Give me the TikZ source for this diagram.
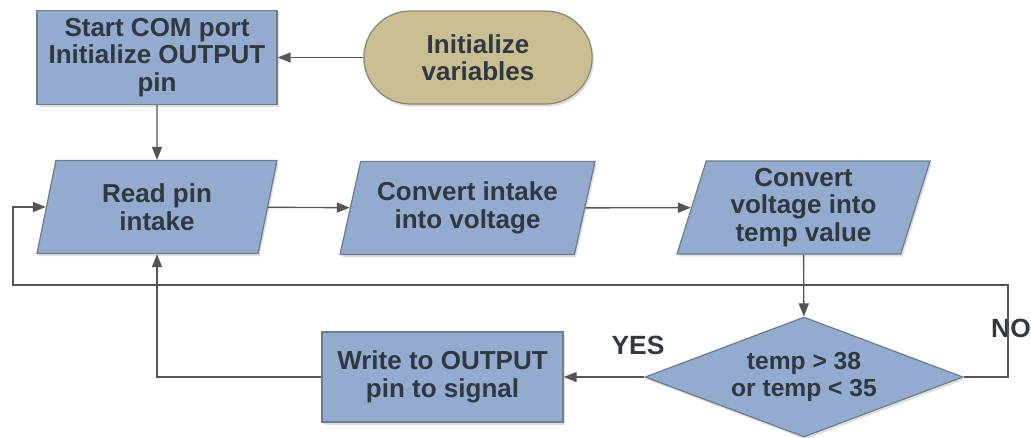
\documentclass[tikz,border=0pt]{standalone}
\usepackage{fontspec}
\setmainfont{Liberation Sans}
\usepackage{tikz}
\usetikzlibrary{arrows.meta,shapes.geometric,shapes.misc,shadows}

\definecolor{boxblue}{RGB}{146,171,206}
\definecolor{boxedge}{RGB}{110,124,140}
\definecolor{ovaltan}{RGB}{201,189,146}
\definecolor{ovaledge}{RGB}{140,134,112}
\definecolor{inktext}{RGB}{48,56,66}
\definecolor{wire}{RGB}{85,85,85}

\tikzset{
	>={Triangle[length=0.26cm,width=0.2cm]},
	base/.style={draw=boxedge, line width=0.7pt, fill=boxblue, text=inktext,
		font=\bfseries\fontsize{14.8}{15.6}\selectfont, align=center,
		drop shadow={opacity=0.25, shadow xshift=1pt, shadow yshift=-1.5pt}},
	procbox/.style={base, rectangle, minimum width=4.8cm, minimum height=1.88cm, inner sep=1pt},
	iobox/.style={base, trapezium, trapezium left angle=72, trapezium right angle=108,
		trapezium stretches body, minimum height=1.86cm, inner xsep=1pt},
	startbox/.style={base, rounded rectangle, fill=ovaltan, draw=ovaledge,
		minimum width=4.8cm, minimum height=1.86cm},
	decision/.style={base, diamond, aspect=2.65, minimum width=6.36cm, minimum height=2.4cm, inner sep=0pt,
		font=\bfseries\fontsize{14}{15}\selectfont},
	line/.style={draw=wire, line width=0.8pt},
	tag/.style={text=inktext, font=\bfseries\fontsize{15}{16}\selectfont}
}

\begin{document}
\begin{tikzpicture}
		\useasboundingbox (0, 0) rectangle (20.62, -8.74);
		
		\node[procbox] (start) at (3.14, -1.15) {Start COM port\\Initialize OUTPUT\\pin};
		\node[startbox] (init) at (9.56, -1.15) {Initialize\\variables};
		
		\node[iobox, minimum width=4.8cm] (read) at (3.14, -4.14) {Read pin\\intake};
		\node[iobox, minimum width=5.1cm] (intake) at (9.35, -4.16) {Convert intake\\into voltage};
		\node[iobox, minimum width=5.06cm] (temp) at (16.07, -4.15) {Convert\\voltage into\\temp value};
		
		\node[decision] (check) at (16.08, -7.54) {temp > 38\\or temp < 35};
		\node[procbox, minimum width=4.82cm, minimum height=1.8cm] (write) at (8.85, -7.54) {Write to OUTPUT\\pin to signal};
		
		\node[tag] (yes) at (12.76, -6.9) {YES};
		\node[tag] (no) at (20.22, -6.56) {NO};
		
		\coordinate (loopR) at (20.16, -5.70);
		\coordinate (loopL) at (0.26, -5.70);
		
		\draw[line, ->] (init) -- (start);
		\draw[line, ->] (start) -- (read);
		\draw[line, ->] (read) -- (intake);
		\draw[line, ->] (intake) -- (temp);
		\draw[line, ->] (temp) -- (check);
		\draw[line, ->] (check) -- (write);
		\draw[line, ->] (write.west) -| (read.south);
		\draw[line, ->] (check.east) -| (loopR) -- (loopL) |- (read.west);
		\end{tikzpicture}
\end{document}
